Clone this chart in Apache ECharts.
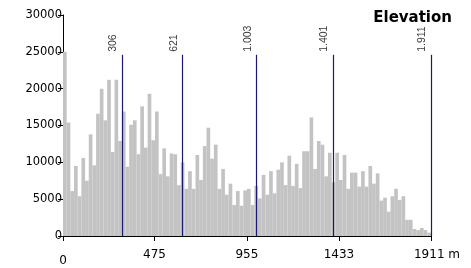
<!DOCTYPE html>
<html>
<head>
<meta charset="utf-8">
<script src="https://cdn.jsdelivr.net/npm/echarts@6/dist/echarts.min.js"></script>
<style>
    html, body { margin: 0; padding: 0; background: #fff; }
    #elev { width: 471px; height: 268px; }
</style>
</head>
<body>
<div id="elev"></div>
<script>
// histogram: 100 bins from 0 to 1911 m, counts
var maxDist = 1911;
var counts = [25000,15400,6100,9500,5400,10600,7500,13800,9600,16600,
              20000,15700,21200,11400,21200,12900,16900,9400,15100,15700,
              11100,17600,12000,19300,13000,16900,8400,11900,8100,11200,
              11100,6900,10000,6400,8800,6400,11000,7600,12200,14700,
              10500,12400,6400,9100,5600,7100,4200,6100,4100,6200,
              6400,4200,6800,5100,8300,5600,8800,5800,9000,10000,
              6900,10900,6800,9800,6500,11500,11500,16100,9100,12900,
              12400,8100,11300,7300,11300,7600,11000,6400,8600,8600,
              6700,8800,6700,9500,7100,8500,4800,5200,3300,5400,
              6400,4900,5400,2200,2200,950,800,1100,800,450];
var xTicks = [0, 475, 955, 1433, 1911];
var markerPos = [306, 621, 1003, 1401, 1911];
var markerLabels = ['306', '621', '1.003', '1.401', '1.911'];
var markerTop = 24600;

var bins = [];
for (var i = 0; i < counts.length; i++) {
    bins.push(String(i));
}

var markerData = [];
var markerLines = [];
for (var j = 0; j < markerPos.length; j++) {
    markerData.push({ value: [markerPos[j], 25000], name: markerLabels[j] });
    markerLines.push([{ coord: [markerPos[j], 0] }, { coord: [markerPos[j], markerTop] }]);
}

var elevChart = echarts.init(document.getElementById('elev'));

var option = {
    animation: false,
    title: {
        text: 'Elevation',
        right: 14,
        top: 6,
        textStyle: { fontFamily: 'DejaVu Sans', fontSize: 15, fontWeight: 'bold', color: '#000' }
    },
    grid: { left: 63, right: 40, top: 15, bottom: 32 },
    xAxis: [
        {
            type: 'category',
            data: bins,
            show: false,
            position: 'bottom'
        },
        {
            type: 'value',
            position: 'bottom',
            min: 0,
            max: maxDist,
            splitLine: { show: false },
            axisLine: { lineStyle: { color: '#000', width: 1 } },
            axisTick: { customValues: xTicks, length: 5, lineStyle: { color: '#000' } },
            axisLabel: {
                customValues: xTicks,
                margin: 13,
                color: '#000',
                fontFamily: 'DejaVu Sans',
                fontSize: 12,
                formatter: function (v) {
                    if (v === 0) return '{low|0}';
                    if (v === maxDist) return '{last|' + v + ' m}';
                    return String(v);
                },
                rich: {
                    low: { padding: [6, 0, 0, 0], fontFamily: 'DejaVu Sans', fontSize: 12, color: '#000' },
                    last: { padding: [0, 0, 0, 12], fontFamily: 'DejaVu Sans', fontSize: 12, color: '#000' }
                }
            }
        }
    ],
    yAxis: {
        type: 'value',
        min: 0,
        max: 30000,
        interval: 5000,
        splitLine: { show: false },
        axisLine: { show: true, lineStyle: { color: '#000', width: 1 } },
        axisTick: { show: true, length: 5, lineStyle: { color: '#000' } },
        axisLabel: {
            margin: 1,
            color: '#000',
            fontFamily: 'DejaVu Sans',
            fontSize: 11.5,
            formatter: function (v) { return String(v); }
        }
    },
    series: [
        {
            type: 'bar',
            xAxisIndex: 0,
            data: counts,
            barCategoryGap: 0,
            barGap: 0,
            itemStyle: { color: '#c3c3c3' },
            silent: true
        },
        {
            type: 'scatter',
            xAxisIndex: 1,
            data: markerData,
            symbolSize: 0,
            silent: true,
            label: {
                show: true,
                position: 'inside',
                align: 'left',
                verticalAlign: 'bottom',
                rotate: 90,
                padding: [0, 0, 3, 0],
                formatter: '{b}',
                color: '#000',
                fontFamily: 'Liberation Sans',
                fontSize: 10.5
            },
            markLine: {
                silent: true,
                symbol: 'none',
                label: { show: false },
                lineStyle: { color: '#1a1a75', width: 1.2, type: 'solid' },
                data: markerLines
            }
        }
    ]
};
elevChart.setOption(option);
</script>
</body>
</html>
